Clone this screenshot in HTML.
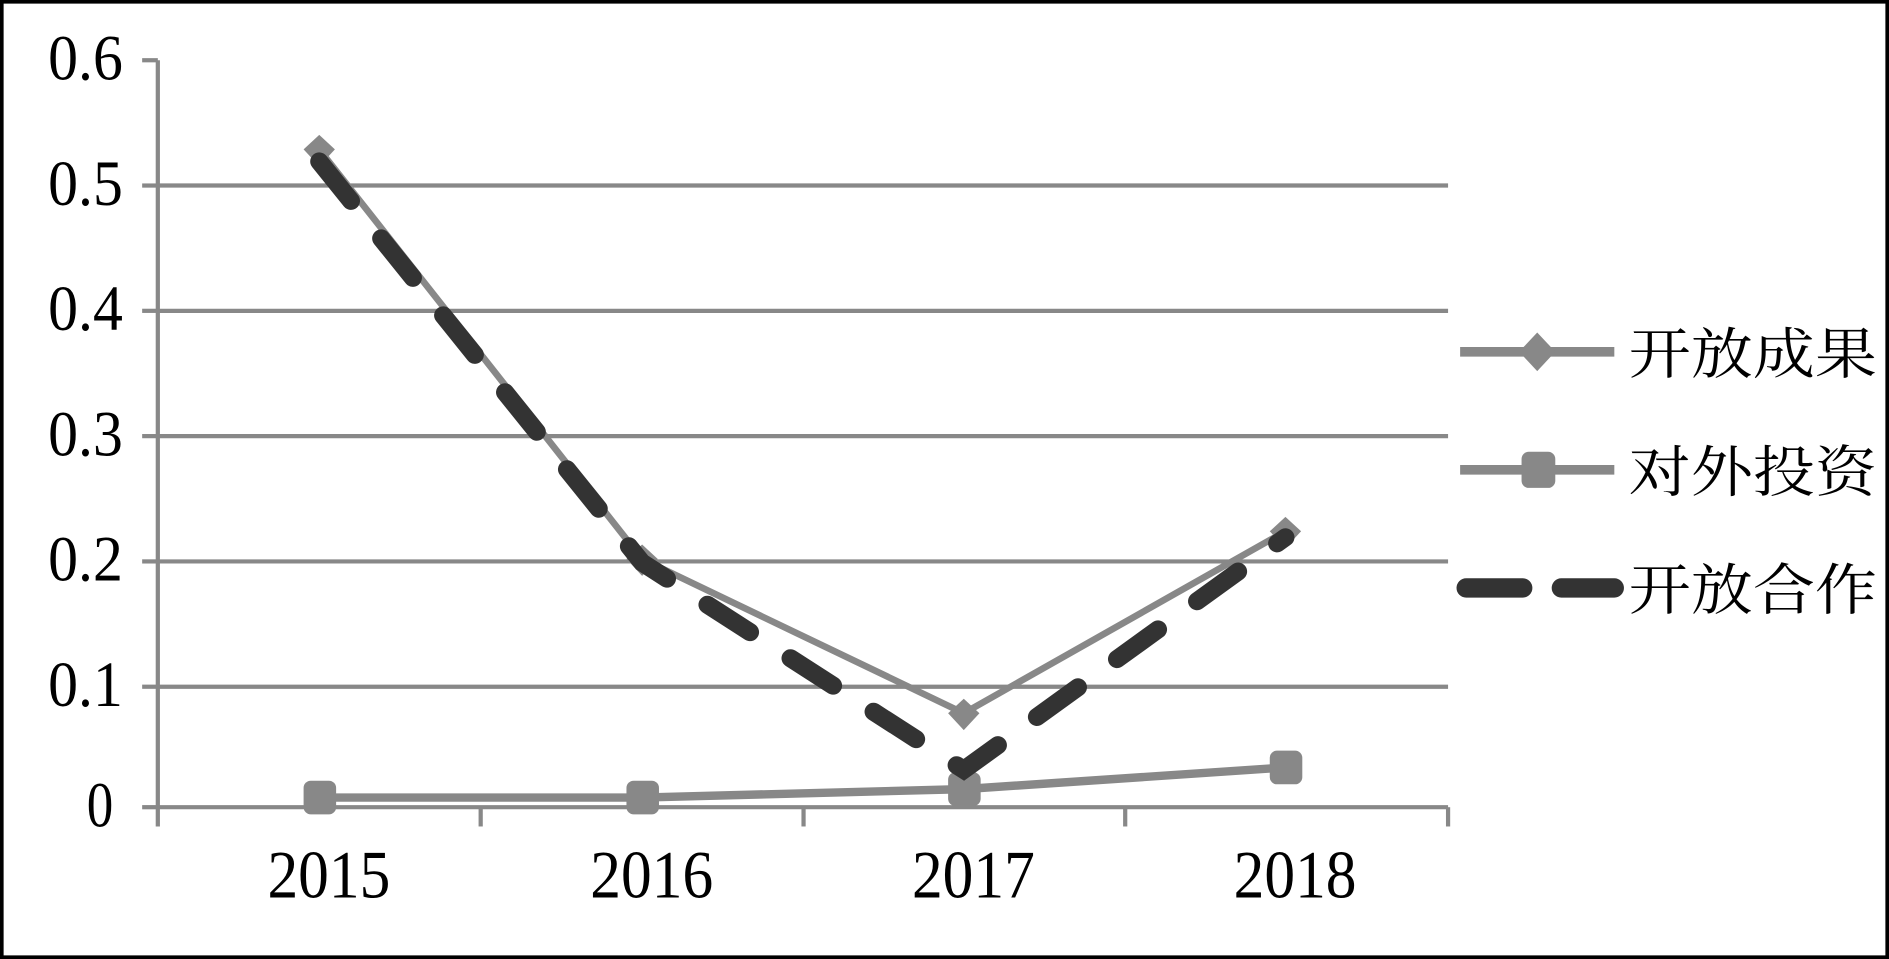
<!DOCTYPE html>
<html><head><meta charset="utf-8"><style>html,body{margin:0;padding:0;background:#fff}svg{display:block}</style></head>
<body>
<svg width="1889" height="959" viewBox="0 0 1568 796" preserveAspectRatio="none" xmlns="http://www.w3.org/2000/svg">
<rect x="1.5" y="1.5" width="1565" height="793" fill="#fff" stroke="#000" stroke-width="3"/>
<g stroke="#888" stroke-width="3.5">
<line x1="131" y1="154" x2="1202" y2="154"/>
<line x1="131" y1="258" x2="1202" y2="258"/>
<line x1="131" y1="362" x2="1202" y2="362"/>
<line x1="131" y1="466" x2="1202" y2="466"/>
<line x1="131" y1="570" x2="1202" y2="570"/>
<line x1="131" y1="670" x2="1202" y2="670"/>
<line x1="131" y1="50" x2="131" y2="686"/>
<line x1="118" y1="50" x2="131" y2="50"/>
<line x1="118" y1="154" x2="131" y2="154"/>
<line x1="118" y1="258" x2="131" y2="258"/>
<line x1="118" y1="362" x2="131" y2="362"/>
<line x1="118" y1="466" x2="131" y2="466"/>
<line x1="118" y1="570" x2="131" y2="570"/>
<line x1="118" y1="670" x2="131" y2="670"/>
<line x1="399" y1="670" x2="399" y2="686"/>
<line x1="667" y1="670" x2="667" y2="686"/>
<line x1="934" y1="670" x2="934" y2="686"/>
<line x1="1202" y1="670" x2="1202" y2="686"/>
</g>
<g font-family="Liberation Serif, serif" font-size="54" fill="#000">
<text x="40" y="66" textLength="62" lengthAdjust="spacingAndGlyphs">0.6</text>
<text x="40" y="170" textLength="62" lengthAdjust="spacingAndGlyphs">0.5</text>
<text x="40" y="274" textLength="62" lengthAdjust="spacingAndGlyphs">0.4</text>
<text x="40" y="378" textLength="62" lengthAdjust="spacingAndGlyphs">0.3</text>
<text x="40" y="482" textLength="62" lengthAdjust="spacingAndGlyphs">0.2</text>
<text x="40" y="586" textLength="62" lengthAdjust="spacingAndGlyphs">0.1</text>
<text x="72" y="686" textLength="22" lengthAdjust="spacingAndGlyphs">0</text>
</g>
<g font-family="Liberation Serif, serif" font-size="56" fill="#000">
<text x="222" y="745" textLength="102" lengthAdjust="spacingAndGlyphs">2015</text>
<text x="490" y="745" textLength="102" lengthAdjust="spacingAndGlyphs">2016</text>
<text x="757" y="745" textLength="102" lengthAdjust="spacingAndGlyphs">2017</text>
<text x="1024" y="745" textLength="102" lengthAdjust="spacingAndGlyphs">2018</text>
</g>
<polyline points="265,662 533,662 800,655 1067,637" fill="none" stroke="#888" stroke-width="7"/>
<g fill="#888">
<rect x="252" y="648" width="27" height="28" rx="6"/><rect x="520" y="648" width="27" height="28" rx="6"/>
<rect x="787" y="641" width="27" height="28" rx="6"/><rect x="1054" y="623" width="27" height="28" rx="6"/>
</g>
<polyline points="265,124 533,464 800,592 1067,441" fill="none" stroke="#888" stroke-width="5.5"/>
<g fill="#888">
<path d="M265,112 L278,124 L265,138 L252,124Z"/><path d="M533,452 L546,464 L533,478 L520,464Z"/>
<path d="M800,580 L813,592 L800,606 L787,592Z"/><path d="M1067,429 L1080,441 L1067,455 L1054,441Z"/>
</g>
<polyline points="265,134 533,467 800,639 1067,446" fill="none" stroke="#333" stroke-width="15" stroke-linecap="round" stroke-dasharray="42,40"/>
<line x1="1212" y1="292" x2="1340" y2="292" stroke="#888" stroke-width="8"/>
<path d="M1276,276 L1291,292 L1276,308 L1261,292Z" fill="#888"/>
<line x1="1212" y1="390" x2="1340" y2="390" stroke="#888" stroke-width="8"/>
<rect x="1263" y="375" width="28" height="30" rx="6" fill="#888"/>
<line x1="1217" y1="488" x2="1264" y2="488" stroke="#333" stroke-width="16" stroke-linecap="round"/>
<line x1="1296" y1="488" x2="1340" y2="488" stroke="#333" stroke-width="16" stroke-linecap="round"/>
<g font-family="Liberation Serif, 'Noto Serif CJK SC', 'Noto Sans CJK SC', serif" font-size="46" fill="#000">
<text x="1352" y="310" textLength="206" lengthAdjust="spacingAndGlyphs">开放成果</text>
<text x="1352" y="408" textLength="206" lengthAdjust="spacingAndGlyphs">对外投资</text>
<text x="1352" y="506" textLength="206" lengthAdjust="spacingAndGlyphs">开放合作</text>
</g>
</svg>
</body></html>
